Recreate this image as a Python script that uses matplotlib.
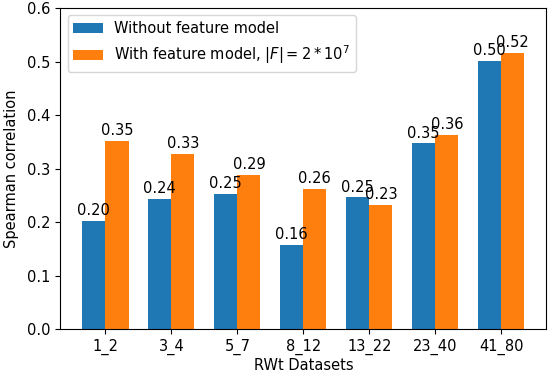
import numpy as np
import matplotlib
matplotlib.use("Agg")
import matplotlib.pyplot as plt

plt.rcParams["font.size"] = 10.5

datasets = ["1_2", "3_4", "5_7", "8_12", "13_22", "23_40", "41_80"]
without_fm = [0.202, 0.244, 0.253, 0.157, 0.246, 0.347, 0.502]
with_fm = [0.352, 0.328, 0.288, 0.262, 0.232, 0.363, 0.517]

x = np.arange(len(datasets))
width = 0.35

fig, ax = plt.subplots(figsize=(5.53, 3.73), dpi=100)
b1 = ax.bar(x - width / 2, without_fm, width, label="Without feature model")
b2 = ax.bar(x + width / 2, with_fm, width, label=r"With feature model, $|F| = 2*10^7$")

# value labels above every bar
for bars in (b1, b2):
    for b in bars:
        h = b.get_height()
        ax.annotate("{:.2f}".format(h), xy=(b.get_x() + b.get_width() / 2, h),
                    xytext=(0, 2), textcoords="offset points",
                    ha="center", va="bottom")

ax.set_ylabel("Spearman correlation", labelpad=6)
ax.set_xlabel("RWt Datasets", labelpad=2)
ax.set_xticks(x)
ax.set_xticklabels(datasets)
ax.set_ylim(0, 0.6)
ax.legend(loc="upper left")

fig.subplots_adjust(left=0.109, right=0.988, top=0.978, bottom=0.118)
fig.savefig("out.png")
